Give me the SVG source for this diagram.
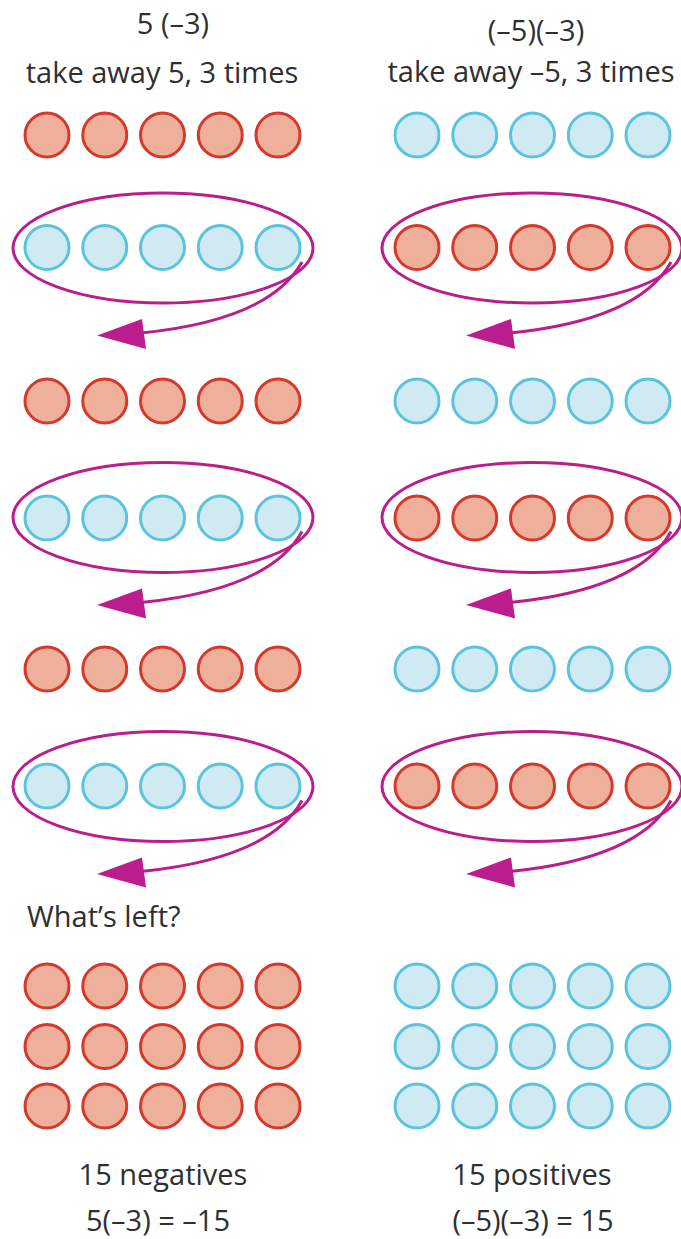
<svg xmlns="http://www.w3.org/2000/svg" xmlns:xlink="http://www.w3.org/1999/xlink" width="681" height="1239" viewBox="0 0 681 1239">
<style>
text{font-family:"Open Sans","Noto Sans","Liberation Sans",sans-serif;font-size:29px;fill:#2f2f2f;}
.m{text-anchor:middle;}
.r{fill:#eeb09b;stroke:#d5392c;stroke-width:3;}
.b{fill:#d0eaf4;stroke:#5bc4dc;stroke-width:3;}
.loop{fill:none;stroke:#bb1d8c;stroke-width:3;}
.head{fill:#bb1d8c;}
</style>
<defs>
<g id="rrow"><circle class="r" cx="0" cy="0" r="22"/><circle class="r" cx="57.75" cy="0" r="22"/><circle class="r" cx="115.5" cy="0" r="22"/><circle class="r" cx="173.25" cy="0" r="22"/><circle class="r" cx="231" cy="0" r="22"/></g>
<g id="brow"><circle class="b" cx="0" cy="0" r="22"/><circle class="b" cx="57.75" cy="0" r="22"/><circle class="b" cx="115.5" cy="0" r="22"/><circle class="b" cx="173.25" cy="0" r="22"/><circle class="b" cx="231" cy="0" r="22"/></g>
<g id="loop"><ellipse class="loop" cx="0" cy="0" rx="150" ry="55"/><path class="loop" d="M139,14 Q107,72 -22,85"/><polygon class="head" points="-66,87.5 -21,71 -17,101"/></g>
</defs>

<g id="titles">
<text class="m" x="173" y="34">5 (–3)</text>
<text class="m" x="162" y="83">take away 5, 3 times</text>
<text class="m" x="536" y="41">(–5)(–3)</text>
<text class="m" x="531" y="82">take away –5, 3 times</text>
</g>

<g id="left-column">
<use xlink:href="#rrow" x="47" y="135"/>
<use xlink:href="#brow" x="47" y="247.5"/>
<use xlink:href="#rrow" x="47" y="401"/>
<use xlink:href="#brow" x="47" y="518"/>
<use xlink:href="#rrow" x="47" y="669"/>
<use xlink:href="#brow" x="47" y="786"/>
<text x="27" y="927">What’s left?</text>
<use xlink:href="#rrow" x="47" y="986"/>
<use xlink:href="#rrow" x="47" y="1046.5"/>
<use xlink:href="#rrow" x="47" y="1106"/>
<text class="m" x="163" y="1185">15 negatives</text>
<text class="m" x="158" y="1231">5(–3) = –15</text>
</g>

<g id="right-column">
<use xlink:href="#brow" x="417" y="135"/>
<use xlink:href="#rrow" x="417" y="247.5"/>
<use xlink:href="#brow" x="417" y="401"/>
<use xlink:href="#rrow" x="417" y="518"/>
<use xlink:href="#brow" x="417" y="669"/>
<use xlink:href="#rrow" x="417" y="786"/>
<use xlink:href="#brow" x="417" y="986"/>
<use xlink:href="#brow" x="417" y="1046.5"/>
<use xlink:href="#brow" x="417" y="1106"/>
<text class="m" x="532" y="1185">15 positives</text>
<text class="m" x="533" y="1231">(–5)(–3) = 15</text>
</g>

<g id="connectors">
<use xlink:href="#loop" x="163" y="248"/>
<use xlink:href="#loop" x="163" y="517.5"/>
<use xlink:href="#loop" x="163" y="786.5"/>
<use xlink:href="#loop" x="532" y="248"/>
<use xlink:href="#loop" x="532" y="517.5"/>
<use xlink:href="#loop" x="532" y="786.5"/>
</g>
</svg>
